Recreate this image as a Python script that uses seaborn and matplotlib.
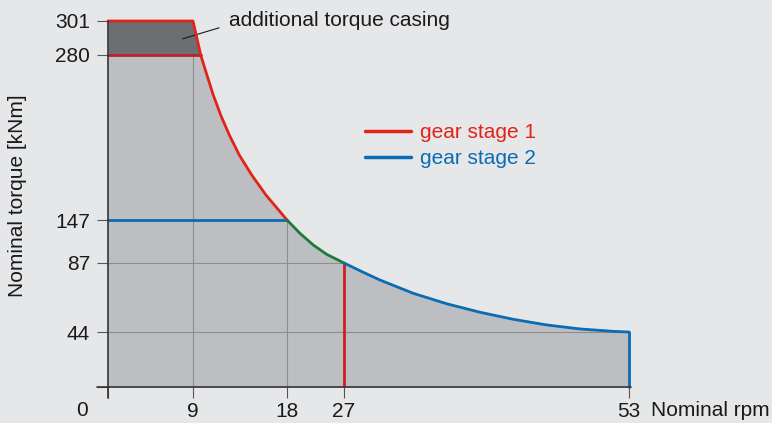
import numpy as np
import matplotlib
matplotlib.use("Agg")
import matplotlib.pyplot as plt
import seaborn as sns
import pandas as pd

# ---------------- data ----------------
rpm_ticks = [0, 9, 18, 27, 53]
torque_ticks = [0, 44, 87, 147, 280, 301]

max_torque = 301          # with additional torque casing
casing_torque = 280       # without
stage2_torque = 147
corner_rpm = 9
stage2_corner_rpm = 18
stage1_max_rpm = 27
stage2_max_rpm = 53

# constant power curve
curve_rpm = [9.0, 9.74, 10.33, 10.94, 11.65, 12.48, 13.43, 14.62, 15.99, 18.0,
             20.05, 22.15, 24.27, 27.0,
             28.76, 30.28, 33.32, 36.37, 39.41, 42.45, 45.49, 48.53, 51.57, 53.0]
curve_torque = [301, 280, 263.9, 247.8, 231.6, 215.5, 199.4, 183.3, 167.1, 147,
                128.4, 112.1, 99.1, 87,
                81.2, 76.4, 68.1, 61.6, 56.3, 51.9, 48.4, 45.9, 44.4, 44]

# schematic (non linear) axes of the original: where each tick sits, in px
x_pos = [0, 85, 179, 236, 521]
y_pos = [0, 55, 124, 167, 332, 366]

RED = "#e2231a"
RED_DARK = "#b8232a"
BLUE = "#0a6cb4"
GREEN = "#1d7a3e"
BG = "#e6e7e9"
FILL = "#bdbec1"
DARK = "#6d6e71"
GRID = "#8c8d90"
TXT = "#1a1a1a"
FS = 15

sns.set_theme(style="white", rc={"figure.facecolor": BG, "axes.facecolor": BG})
plt.rcParams['font.family'] = ['Liberation Sans', 'DejaVu Sans']

curve = pd.DataFrame({"rpm": curve_rpm, "torque": curve_torque})

fig = plt.figure(figsize=(7.72, 4.23), dpi=100)
ax = fig.add_axes([108 / 772, 1 - 387 / 423, 521 / 772, 366 / 423])

ax.set_xscale("function", functions=(lambda v: np.interp(v, rpm_ticks, x_pos),
                                     lambda p: np.interp(p, x_pos, rpm_ticks)))
ax.set_yscale("function", functions=(lambda v: np.interp(v, torque_ticks, y_pos),
                                     lambda p: np.interp(p, y_pos, torque_ticks)))
ax.set_xlim(0, stage2_max_rpm)
ax.set_ylim(0, max_torque)

# filled operating range
env_rpm = [0] + curve_rpm
env_torque = [max_torque] + curve_torque
ax.fill_between(env_rpm, 0, env_torque, color=FILL, lw=0, zorder=1)
ax.fill_between([0] + curve_rpm[:2], casing_torque, [max_torque] + curve_torque[:2],
                color=DARK, lw=0, zorder=2)

# grid lines inside the range
ax.vlines(corner_rpm, 0, casing_torque, color=GRID, lw=0.8, zorder=3)
ax.vlines(stage2_corner_rpm, 0, stage2_torque, color=GRID, lw=0.8, zorder=3)
ax.hlines(87, 0, stage1_max_rpm, color=GRID, lw=0.8, zorder=3)
ax.hlines(44, 0, stage2_max_rpm, color=GRID, lw=0.8, zorder=3)

# gear stage 1
s1 = curve[curve.rpm <= stage2_corner_rpm]
s1 = pd.concat([pd.DataFrame({"rpm": [0], "torque": [max_torque]}), s1])
sns.lineplot(data=s1, x="rpm", y="torque", sort=False, color=RED, lw=2,
             ax=ax, zorder=6, clip_on=False)
ax.plot([0, curve_rpm[1]], [casing_torque, casing_torque], color=RED_DARK, lw=2, zorder=5)
ax.plot([stage1_max_rpm, stage1_max_rpm], [87, 0], color="#cc1f26", lw=2, zorder=5)

# overlap of both stages
both = curve[(curve.rpm >= stage2_corner_rpm) & (curve.rpm <= stage1_max_rpm)]
sns.lineplot(data=both, x="rpm", y="torque", sort=False, color=GREEN, lw=2, ax=ax, zorder=6)

# gear stage 2
s2 = curve[curve.rpm >= stage1_max_rpm]
sns.lineplot(data=s2, x="rpm", y="torque", sort=False, color=BLUE, lw=2,
             ax=ax, zorder=6, clip_on=False)
ax.plot([0, stage2_corner_rpm], [stage2_torque, stage2_torque], color=BLUE, lw=2, zorder=5)
ax.plot([stage2_max_rpm, stage2_max_rpm], [44, 0], color=BLUE, lw=2, zorder=5, clip_on=False)

# axes lines, extended past the origin like the original
for s in ax.spines.values():
    s.set_visible(False)
ax.plot([-11 / 521, 1.004], [0, 0], transform=ax.transAxes, color="#333333",
        lw=1.2, clip_on=False, zorder=7)
ax.plot([0, 0], [-11 / 366, 1], transform=ax.transAxes, color="#333333",
        lw=1.2, clip_on=False, zorder=7)

ax.set_xticks(rpm_ticks)
ax.set_xticklabels([""] + [str(v) for v in rpm_ticks[1:]])
ax.set_yticks(torque_ticks)
ax.set_yticklabels([""] + [str(v) for v in torque_ticks[1:]])
ax.tick_params(axis="both", direction="out", length=8, width=0.8, color="#555555",
               labelsize=FS, labelcolor=TXT, left=True, bottom=True)
ax.tick_params(axis="y", pad=5)
ax.tick_params(axis="x", pad=3)
ax.set_xlabel("")
ax.set_ylabel("")

fig.text(82 / 772, 1 - 410 / 423, "0", fontsize=FS, color=TXT, ha="center", va="center")
fig.text(651 / 772, 1 - 410 / 423, "Nominal rpm", fontsize=FS, color=TXT, ha="left", va="center")
fig.text(18 / 772, 1 - 196 / 423, "Nominal torque [kNm]", fontsize=FS, color=TXT,
         rotation=90, ha="center", va="center")

ax.annotate("additional torque casing", xy=(7.9, 290), xycoords="data",
            xytext=(229 / 772, 1 - 21 / 423), textcoords="figure fraction",
            fontsize=FS, color=TXT, ha="left", va="center",
            arrowprops=dict(arrowstyle="-", color=TXT, lw=0.8, relpos=(0, 0.3),
                            shrinkA=5, shrinkB=0))

h1, = ax.plot([], [], color=RED, lw=2.5, label="gear stage 1")
h2, = ax.plot([], [], color=BLUE, lw=2.5, label="gear stage 2")
ax.legend(handles=[h1, h2], loc="upper left", bbox_to_anchor=(365 / 772, 1 - 123 / 423),
          bbox_transform=fig.transFigure, frameon=False, fontsize=FS, borderpad=0,
          borderaxespad=0, handlelength=2.2, handletextpad=0.43, labelspacing=0.35,
          labelcolor="linecolor")

fig.savefig("out.png", dpi=100, facecolor=BG)
